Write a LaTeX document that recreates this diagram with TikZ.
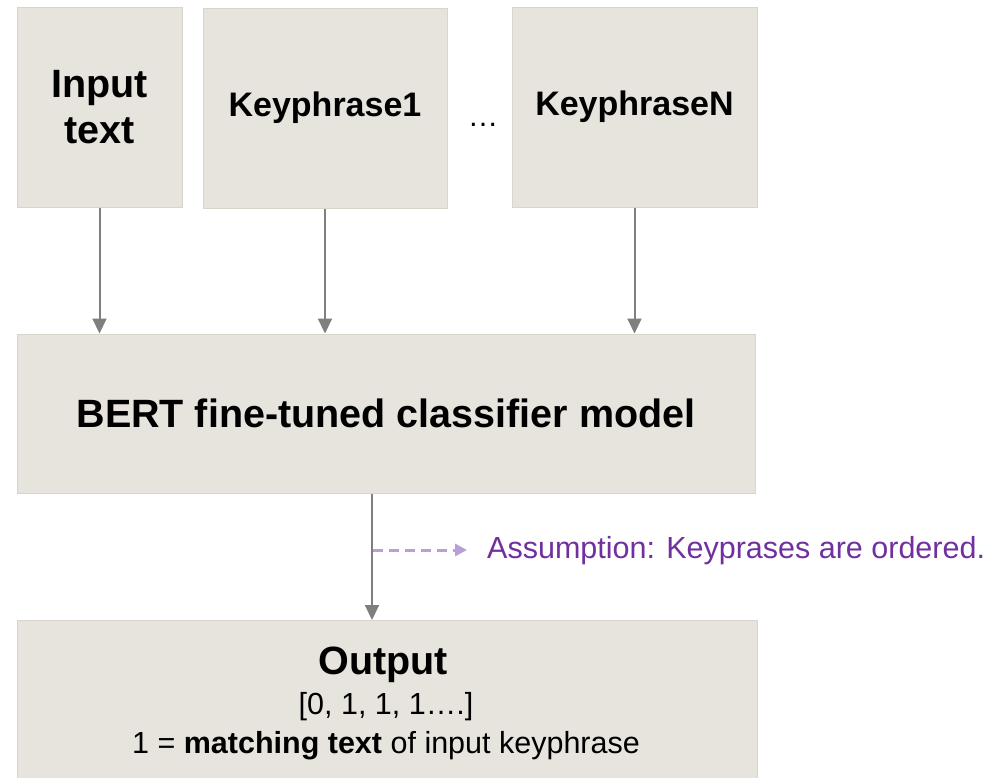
\documentclass[tikz,border=0pt]{standalone}
\usepackage{fontspec}
\setmainfont{Liberation Sans}
\usetikzlibrary{arrows.meta}
\definecolor{boxfill}{HTML}{E7E4DE}
\definecolor{boxline}{HTML}{D9D5CC}
\definecolor{arrowgray}{HTML}{7F7F7F}
\definecolor{notepurple}{HTML}{7030A0}
\definecolor{dashpurple}{HTML}{B89FD8}
\tikzset{
  block/.style={draw=boxline, line width=1pt, fill=boxfill, inner sep=0pt, align=center},
  flow/.style={draw=arrowgray, line width=2pt, -{Triangle[length=15pt,width=14pt]}},
  noteline/.style={draw=dashpurple, line width=3pt, dash pattern=on 10pt off 6pt,
    -{Triangle[length=12pt,width=12pt]}},
  bigbold/.style={font=\fontsize{39.5}{46}\selectfont\bfseries},
  midbold/.style={font=\fontsize{34}{40}\selectfont\bfseries},
  plain/.style={font=\fontsize{30.5}{36}\selectfont, inner sep=0pt},
}
\begin{document}
\begin{tikzpicture}[x=1pt,y=-1pt]
\clip (0,0) rectangle (999,777);
\fill[white] (0,0) rectangle (999,777);

% input boxes
\node[block, bigbold, minimum width=165pt, minimum height=200pt] (inp) at (99.5,107)
  {\raisebox{-3pt}{Input}\\\raisebox{-3pt}{text}};
\node[block, midbold, minimum width=244pt, minimum height=200pt] (k1) at (325,108)
  {\raisebox{-4pt}{Keyphrase1}};
\node[block, midbold, minimum width=245pt, minimum height=200pt] (kn) at (634.5,107)
  {\raisebox{-4pt}{KeyphraseN}};
\node[plain] (dots) at (483,125) {…};

% classifier
\node[block, bigbold, minimum width=738pt, minimum height=159pt] (bert) at (386,413.5)
  {BERT fine-tuned classifier model};

% output
\node[block, minimum width=740pt, minimum height=170pt, anchor=north west] (out) at (17,620) {};
\node[bigbold, inner sep=0pt] (outtitle) at (383,665) {Output};
\node[plain] (outvec) at (386,707) {[0, 1, 1, 1….]};
\node[plain] (outnote) at (386,746) {1 = \textbf{matching text} of input keyphrase};

% connectors
\draw[flow] (inp.south) -- (inp.south |- bert.north);
\draw[flow] (k1.south) -- (k1.south |- bert.north);
\draw[flow] (kn.south) -- (kn.south |- bert.north);
\coordinate (mid) at (372,0);
\draw[flow] (bert.south -| mid) -- (out.north -| mid);

% assumption note
\coordinate (nstart) at (373,550);
\node[plain, anchor=west, text=notepurple] (note) at (487,551)
  {Assumption: Keyprases are ordered.};
\draw[noteline] (nstart) -- ([xshift=-20pt]note.west |- nstart);
\end{tikzpicture}
\end{document}
